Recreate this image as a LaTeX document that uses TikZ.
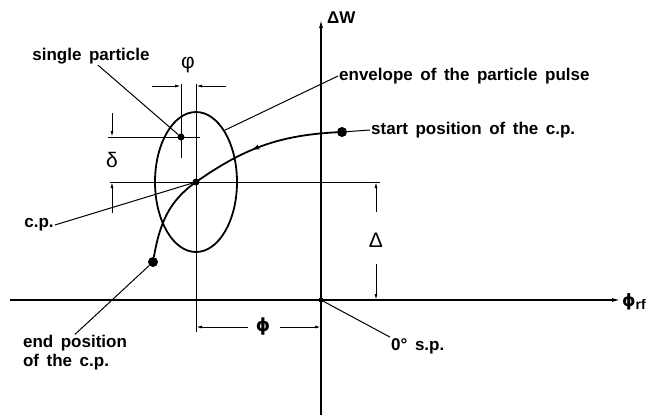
\documentclass[tikz,border=0pt]{standalone}
\usepackage{fontspec}
\setmainfont{Liberation Sans}[WordSpace=1.6]
\newfontfamily\symfont{DejaVu Sans}
\usetikzlibrary{shapes.geometric,arrows.meta,decorations.markings,positioning,calc}

\begin{document}
\begin{tikzpicture}[x=1pt, y=-1pt,
        lbl/.style={font=\fontsize{17}{19}\selectfont\bfseries, inner sep=1pt, align=left},
        sym/.style={font=\fontsize{21}{23}\selectfont, inner sep=0pt},
        dot/.style={circle, fill=black, inner sep=0pt, minimum size=7pt},
        bigdot/.style={circle, fill=black, inner sep=0pt, minimum size=10pt},
        lead/.style={line width=1pt},
        dim/.style={-{Latex[length=6pt,width=3pt]}, line width=1pt},
        axis/.style={-{Latex[length=8pt,width=4pt]}, line width=1.1pt},
        traj/.style={line width=1.8pt, postaction={decorate},
            decoration={markings, mark=at position 0.37 with {\arrow{Latex[length=9pt,width=5pt]}}}}]

        \useasboundingbox (0,0) rectangle (669,418);

        % axes
        \coordinate (ybot) at (321,415);
        \coordinate (ytop) at (321,20);
        \coordinate (xleft) at (10,300);
        \coordinate (xright) at (620,300);
        \draw[axis] (ybot) -- (ytop);
        \draw[axis] (xleft) -- (xright);
        \node[lbl, anchor=west] (wlbl) at (326,18) {ΔW};
        \node[lbl, anchor=west] (philbl) at (621,302) {{\symfont ϕ}\raisebox{-3pt}{\fontsize{14}{16}\selectfont rf}};

        % points
        \node[dot, minimum size=5pt] (orig) at (321,300) {};
        \node[dot] (cp) at (196,182) {};
        \node[dot] (sp) at (181,137) {};
        \node[bigdot] (start) at (342,132) {};
        \node[bigdot] (end) at (153,262) {};

        % envelope
        \node[draw, ellipse, line width=1.8pt, inner sep=0pt,
              minimum width=82pt, minimum height=140pt] (pulse) at (196,182) {};

        % path of the c.p.
        \draw[traj] (start) to[out=183, in=35] (cp.center) to[out=215, in=80] (end);

        % reference lines
        \coordinate (cpl) at (110,182);
        \coordinate (cpr) at (380,182);
        \coordinate (spl) at (108,137);
        \coordinate (spr) at (200,137);
        \coordinate (vsptop) at (181,84);
        \coordinate (vspbot) at (181,158);
        \coordinate (vcptop) at (196,84);
        \coordinate (vcpbot) at (196,332);
        \draw[lead] (cpl) -- (cpr);
        \draw[lead] (spl) -- (spr);
        \draw[lead] (vsptop) -- (vspbot);
        \draw[lead] (vcptop) -- (vcpbot);

        % small phi
        \node[sym] (vphi) at (188,65) {φ};
        \draw[dim] (152,86) -- (181,86);
        \draw[dim] (226,86) -- (196,86);

        % delta
        \node[sym] (dlt) at (112,160) {δ};
        \draw[dim] (112,113) -- (112,137);
        \draw[dim] (112,213) -- (112,182);

        % Delta
        \node[sym] (Dlt) at (376,240) {Δ};
        \draw[dim] (376,212) -- (376,182);
        \draw[dim] (376,264) -- (376,300);

        % phi
        \node[sym, font=\fontsize{18}{20}\selectfont\symfont\bfseries] (bphi) at (263,327) {ϕ};
        \draw[dim] (248,327) -- (196,327);
        \draw[dim] (280,327) -- (321,327);

        % labels
        \node[lbl] (splbl) at (91,56) {single particle};
        \node[lbl, anchor=west] (envlbl) at (338,76) {envelope of the particle pulse};
        \node[lbl, anchor=west] (startlbl) at (370,130) {start position of the c.p.};
        \node[lbl] (cplbl) at (39,225) {c.p.};
        \node[lbl] (endlbl) at (75,353) {end position\\of the c.p.};
        \node[lbl, anchor=west] (zlbl) at (390,346) {0° s.p.};

        \draw[lead] ([xshift=7pt]splbl.south) -- (sp);
        \draw[lead] (envlbl.west) -- (pulse.61);
        \draw[lead] (start) -- (startlbl.west);
        \draw[lead] (cplbl.east) -- (cp);
        \draw[lead] (endlbl.north) -- (end);
        \draw[lead] (orig) -- (zlbl.north west);

    \end{tikzpicture}
\end{document}
